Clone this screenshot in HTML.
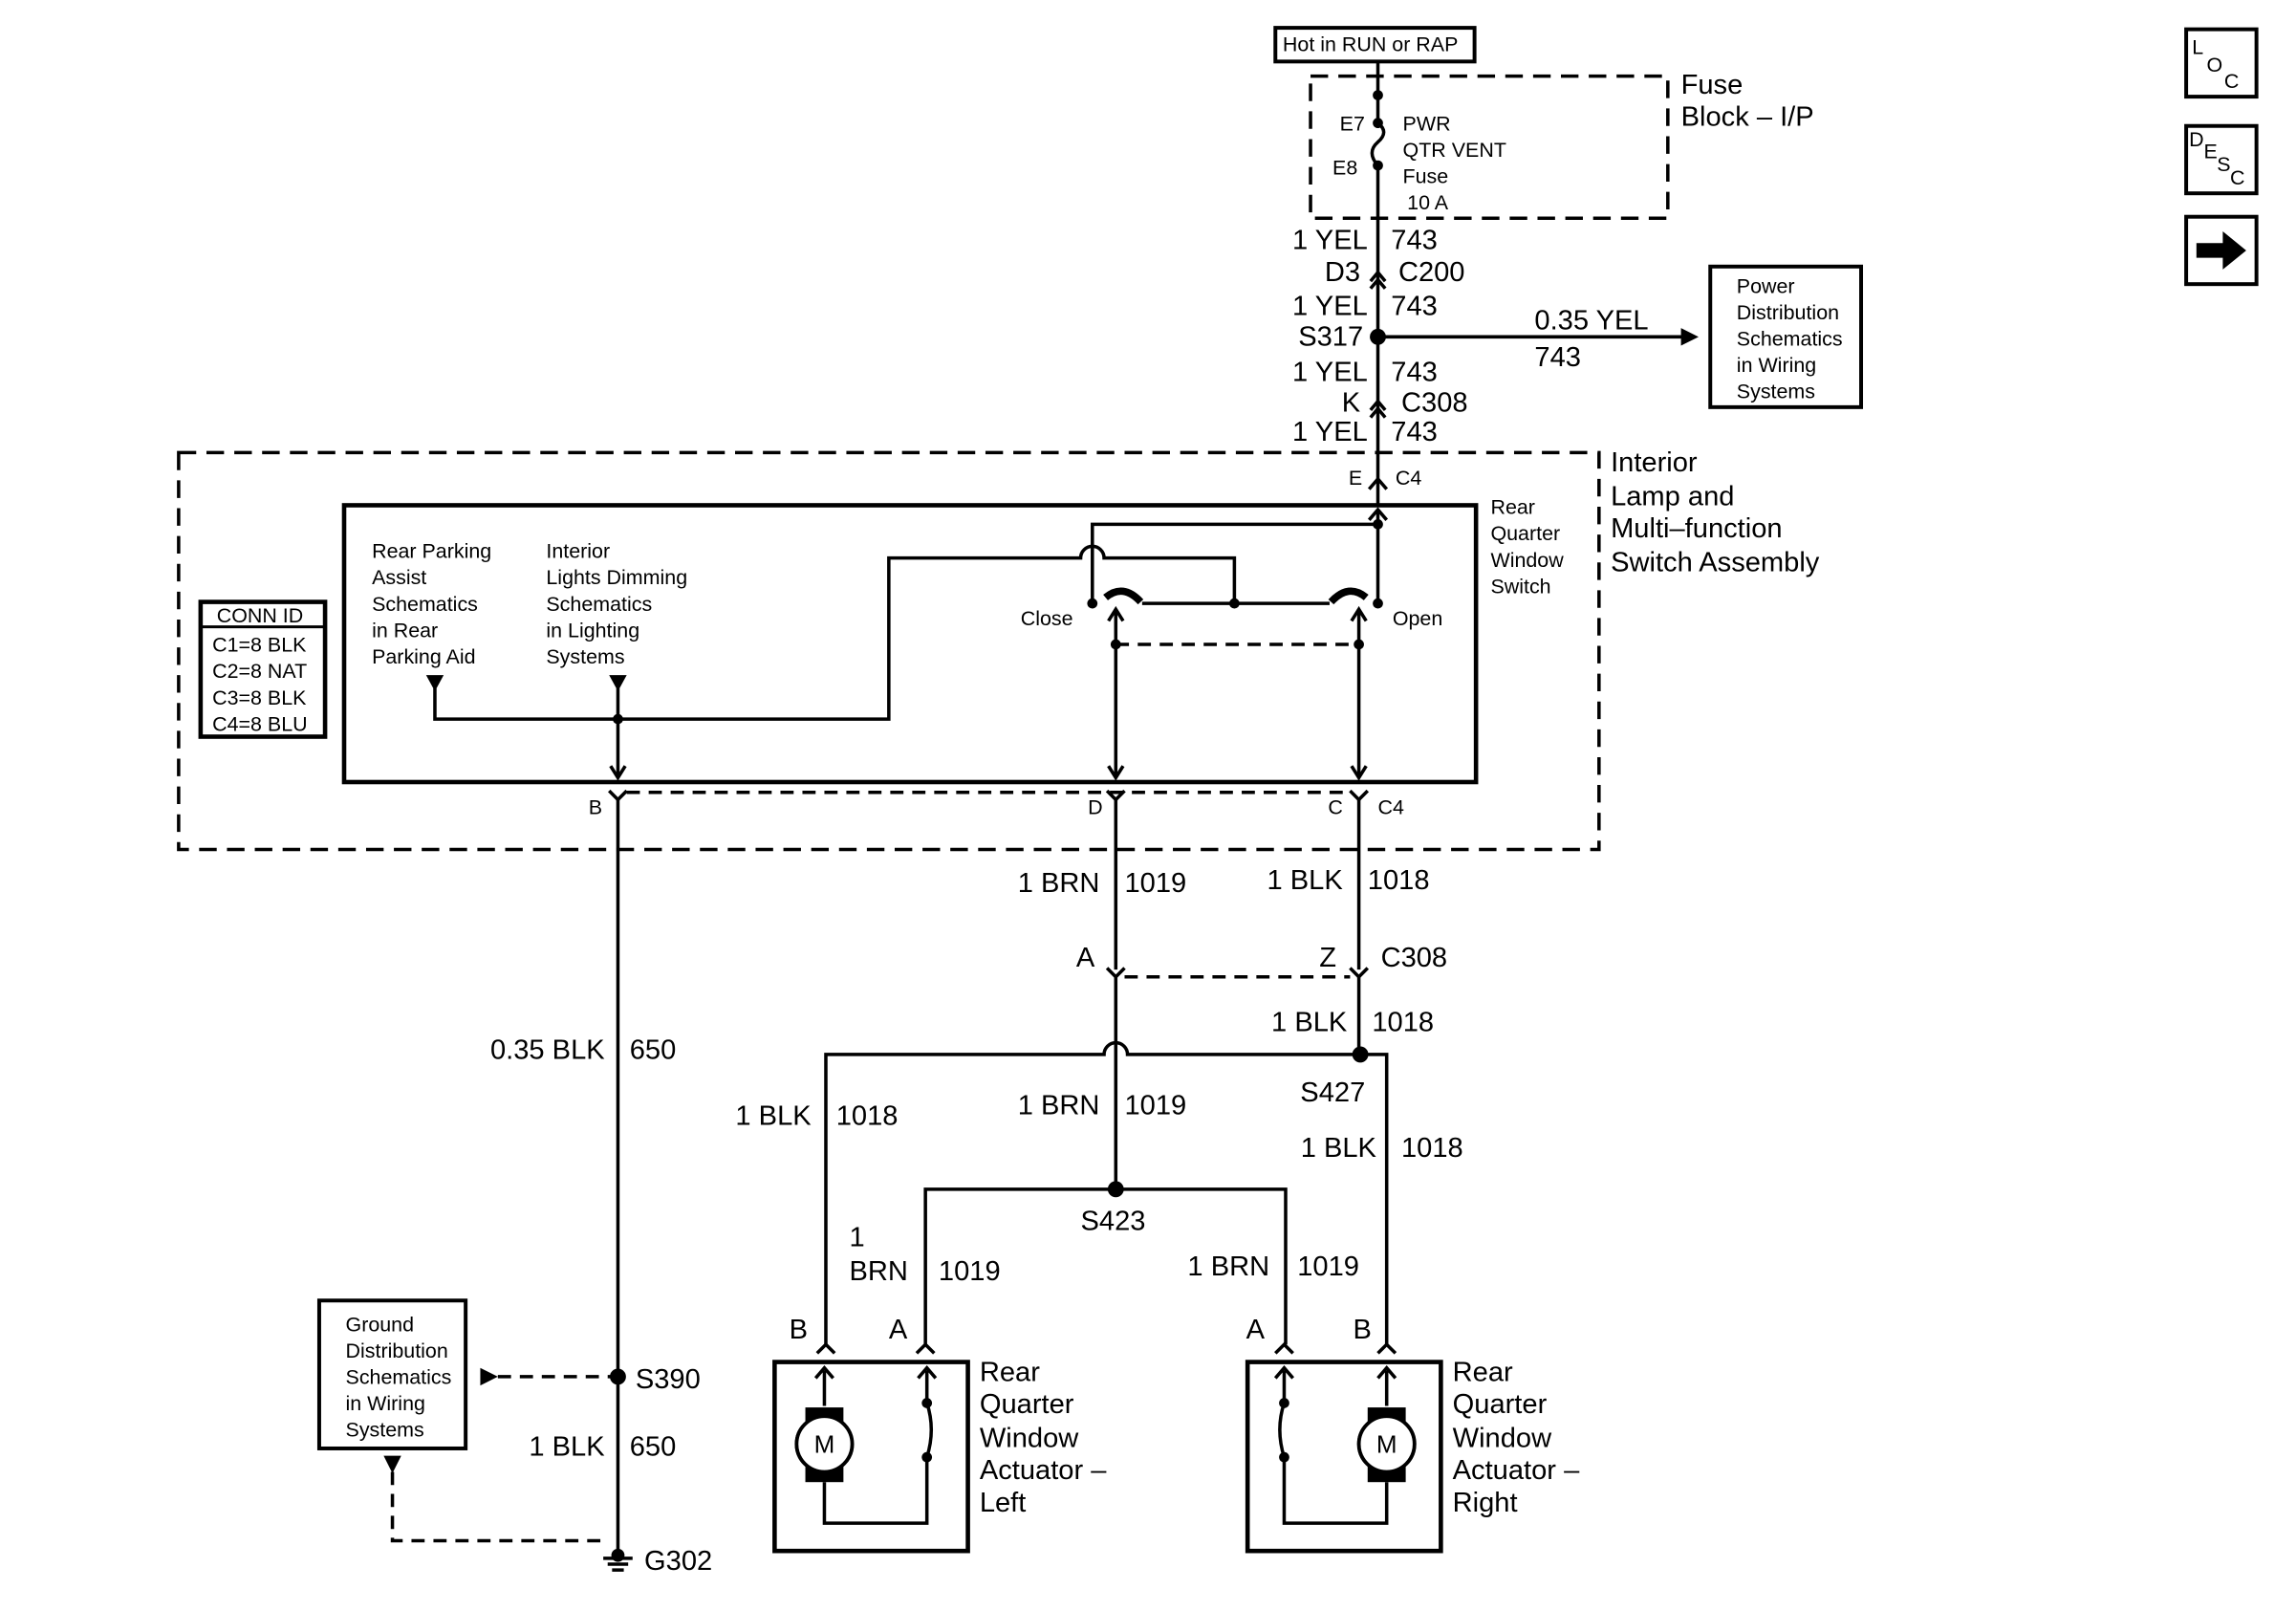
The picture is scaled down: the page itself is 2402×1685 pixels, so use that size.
<!DOCTYPE html>
<html><head><meta charset="utf-8"><style>
html,body{margin:0;padding:0;background:#fff;}
svg{display:block;}
text{font-family:"Liberation Sans",Arial,sans-serif;fill:#000;}
.s{font-size:14px;}
.m{font-size:19px;}
</style></head><body>
<svg width="2402" height="1685" viewBox="0 0 1568 1100" preserveAspectRatio="none" xmlns="http://www.w3.org/2000/svg">
<g fill="none" stroke="#000" stroke-width="2.3">
<!-- top -->
<rect x="871" y="19" width="136" height="23" stroke-width="2.6"/>
<rect x="895" y="52" width="244" height="97" stroke-dasharray="12,7"/>
<line x1="941" y1="42" x2="941" y2="84"/>
<path d="M941 84 q8 6 0 13 q-8 7 0 16"/>
<line x1="941" y1="113" x2="941" y2="345"/>
<path d="M936 192 l5 -6 l5 6 M936 197 l5 -6 l5 6"/>
<path d="M936 280 l5 -6 l5 6 M936 285 l5 -6 l5 6"/>
<line x1="941" y1="230" x2="1150" y2="230"/>
<rect x="1168" y="182" width="103" height="96" stroke-width="2.6"/>
<!-- outer dashed -->
<rect x="122" y="309" width="970" height="271" stroke-dasharray="12,7"/>
<path d="M935 334 l6 -7 l6 7"/>
<rect x="235" y="345" width="773" height="189" stroke-width="3"/>
<rect x="137" y="411" width="85" height="92" stroke-width="3"/>
<line x1="137" y1="428" x2="222" y2="428" stroke-width="2"/>
<!-- internal wiring -->
<path d="M297 470 V491 H607 V381 H738 a8 8 0 0 1 16 0 H843 V412"/>
<line x1="422" y1="470" x2="422" y2="530"/>
<path d="M746 412 V358 H941"/>
<line x1="941" y1="348" x2="941" y2="412"/>
<path d="M935 355 l6 -7 l6 7"/>
<line x1="780" y1="412" x2="908" y2="412"/>
<path d="M755 408 q12 -10 24 3" stroke-width="5"/>
<path d="M909 411 q12 -13 24 -3" stroke-width="5"/>
<line x1="762" y1="416" x2="762" y2="530"/>
<line x1="928" y1="416" x2="928" y2="530"/>
<path d="M757 424 l5 -8 l5 8 M757 523 l5 8 l5 -8 M923 424 l5 -8 l5 8 M923 523 l5 8 l5 -8 M417 523 l5 8 l5 -8"/>
<line x1="762" y1="440" x2="928" y2="440" stroke-dasharray="9,6"/>
<!-- bottom connectors C4 -->
<line x1="428" y1="541" x2="922" y2="541" stroke-dasharray="9,6"/>
<path d="M416 540 l6 6 l6 -6 M756 540 l6 6 l6 -6 M922 540 l6 6 l6 -6"/>
<line x1="422" y1="546" x2="422" y2="1062"/>
<line x1="762" y1="546" x2="762" y2="662"/>
<line x1="928" y1="546" x2="928" y2="662"/>
<path d="M756 661 l6 6 l6 -6 M922 661 l6 6 l6 -6"/>
<line x1="768" y1="667" x2="922" y2="667" stroke-dasharray="9,6"/>
<line x1="762" y1="667" x2="762" y2="812"/>
<line x1="928" y1="667" x2="928" y2="720"/>
<path d="M564 918 V720 H754 a8 8 0 0 1 16 0 H947 V918"/>
<path d="M632 918 V812 H878 V918"/>
<path d="M558 924 l6 -6 l6 6 M626 924 l6 -6 l6 6 M871 924 l6 -6 l6 6 M941 924 l6 -6 l6 6"/>
<!-- actuators -->
<rect x="529" y="930" width="132" height="129" stroke-width="3"/>
<rect x="852" y="930" width="132" height="129" stroke-width="3"/>
<path d="M563 960 V936 M557 941 l6 -7 l6 7 M563 1012 V1040 H633 V995 M633 958 V936 M627 941 l6 -7 l6 7 M633 958 q6 18 0 37"/>
<path d="M947 960 V936 M941 941 l6 -7 l6 7 M947 1012 V1040 H877 V995 M877 958 V936 M871 941 l6 -7 l6 7 M877 958 q-6 18 0 37"/>
<circle cx="563" cy="986" r="19" fill="#fff"/>
<circle cx="947" cy="986" r="19" fill="#fff"/>
<!-- ground -->
<rect x="218" y="888" width="100" height="101" stroke-width="2.6"/>
<line x1="340" y1="940" x2="420" y2="940" stroke-dasharray="9,6"/>
<path d="M268 1005 V1052 H414" stroke-dasharray="9,6"/>
<path d="M412 1064 H432 M415 1068 H429 M418 1072 H426"/>
<rect x="1493" y="20" width="48" height="46" stroke-width="2.6"/>
<rect x="1493" y="86" width="48" height="46" stroke-width="2.6"/>
<rect x="1493" y="148" width="48" height="46" stroke-width="2.6"/>
</g>
<g fill="#000" stroke="none">
<circle cx="941" cy="65" r="3.5"/><circle cx="941" cy="84" r="3.5"/><circle cx="941" cy="113" r="3.5"/>
<circle cx="941" cy="230" r="5.5"/>
<path d="M1160 230 l-12 -6 v12z"/>
<path d="M291 461 h12 l-6 11z M416 461 h12 l-6 11z"/>
<circle cx="422" cy="491" r="3.5"/>
<circle cx="746" cy="412" r="3.5"/><circle cx="843" cy="412" r="3.5"/><circle cx="941" cy="412" r="3.5"/><circle cx="941" cy="358" r="3.5"/>
<circle cx="762" cy="440" r="3.5"/><circle cx="928" cy="440" r="3.5"/>
<circle cx="929" cy="720" r="5.5"/><circle cx="762" cy="812" r="5.5"/>
<circle cx="422" cy="940" r="5.5"/>
<path d="M328 934 l12 6 l-12 6z M262 994 h12 l-6 12z"/>
<circle cx="422" cy="1062" r="4.5"/>
<rect x="550" y="961" width="26" height="51"/><rect x="934" y="961" width="26" height="51"/>
<circle cx="633" cy="958" r="3.5"/><circle cx="633" cy="995" r="3.5"/>
<circle cx="877" cy="958" r="3.5"/><circle cx="877" cy="995" r="3.5"/>
<path d="M1500 166 h18 v-8 l16 13 l-16 13 v-8 h-18z"/>
</g>
<circle cx="563" cy="986" r="18" fill="#fff"/><circle cx="947" cy="986" r="18" fill="#fff"/>
<circle cx="563" cy="986" r="19" fill="none" stroke="#000" stroke-width="2.5"/>
<circle cx="947" cy="986" r="19" fill="none" stroke="#000" stroke-width="2.5"/>
<text x="563" y="992" class="m" text-anchor="middle" style="font-size:17px">M</text>
<text x="947" y="992" class="m" text-anchor="middle" style="font-size:17px">M</text>

<text x="876" y="35" class="s">Hot in RUN or RAP</text>
<text x="1148" y="64" class="m">Fuse</text><text x="1148" y="86" class="m">Block – I/P</text>
<text x="915" y="89" class="s">E7</text><text x="910" y="119" class="s">E8</text>
<text x="958" y="89" class="s">PWR</text><text x="958" y="107" class="s">QTR VENT</text><text x="958" y="125" class="s">Fuse</text><text x="961" y="143" class="s">10 A</text>
<g class="m" text-anchor="end">
<text x="934" y="170">1 YEL</text><text x="929" y="192">D3</text><text x="934" y="215">1 YEL</text><text x="931" y="236">S317</text>
<text x="934" y="260">1 YEL</text><text x="929" y="281">K</text><text x="934" y="301">1 YEL</text>
<text x="751" y="609">1 BRN</text><text x="917" y="607">1 BLK</text>
<text x="920" y="704">1 BLK</text><text x="751" y="761">1 BRN</text><text x="554" y="768">1 BLK</text>
<text x="940" y="790">1 BLK</text><text x="867" y="871">1 BRN</text>
<text x="413" y="723">0.35 BLK</text><text x="413" y="994">1 BLK</text>
</g>
<g class="m">
<text x="950" y="170">743</text><text x="955" y="192">C200</text><text x="950" y="215">743</text>
<text x="950" y="260">743</text><text x="957" y="281">C308</text><text x="950" y="301">743</text>
<text x="1048" y="225">0.35 YEL</text><text x="1048" y="250">743</text>
<text x="1100" y="322">Interior</text><text x="1100" y="345">Lamp and</text><text x="1100" y="367">Multi–function</text><text x="1100" y="390">Switch Assembly</text>
<text x="768" y="609">1019</text><text x="934" y="607">1018</text>
<text x="735" y="660">A</text><text x="901" y="660">Z</text><text x="943" y="660">C308</text>
<text x="937" y="704">1018</text><text x="888" y="752">S427</text>
<text x="768" y="761">1019</text><text x="571" y="768">1018</text><text x="957" y="790">1018</text>
<text x="738" y="840">S423</text>
<text x="580" y="851">1</text><text x="580" y="874">BRN</text><text x="641" y="874">1019</text><text x="886" y="871">1019</text>
<text x="539" y="914">B</text><text x="607" y="914">A</text><text x="851" y="914">A</text><text x="924" y="914">B</text>
<text x="669" y="943">Rear</text><text x="669" y="965">Quarter</text><text x="669" y="988">Window</text><text x="669" y="1010">Actuator –</text><text x="669" y="1032">Left</text>
<text x="992" y="943">Rear</text><text x="992" y="965">Quarter</text><text x="992" y="988">Window</text><text x="992" y="1010">Actuator –</text><text x="992" y="1032">Right</text>
<text x="430" y="723">650</text><text x="434" y="948">S390</text><text x="430" y="994">650</text><text x="440" y="1072">G302</text>
</g>
<g class="s">
<text x="1186" y="200">Power</text><text x="1186" y="218">Distribution</text><text x="1186" y="236">Schematics</text><text x="1186" y="254">in Wiring</text><text x="1186" y="272">Systems</text>
<text x="921" y="331">E</text><text x="953" y="331">C4</text>
<text x="1018" y="351">Rear</text><text x="1018" y="369">Quarter</text><text x="1018" y="387">Window</text><text x="1018" y="405">Switch</text>
<text x="254" y="381">Rear Parking</text><text x="254" y="399">Assist</text><text x="254" y="417">Schematics</text><text x="254" y="435">in Rear</text><text x="254" y="453">Parking Aid</text>
<text x="373" y="381">Interior</text><text x="373" y="399">Lights Dimming</text><text x="373" y="417">Schematics</text><text x="373" y="435">in Lighting</text><text x="373" y="453">Systems</text>
<text x="697" y="427">Close</text><text x="951" y="427">Open</text>
<text x="148" y="425">CONN ID</text><text x="145" y="445">C1=8 BLK</text><text x="145" y="463">C2=8 NAT</text><text x="145" y="481">C3=8 BLK</text><text x="145" y="499">C4=8 BLU</text>
<text x="402" y="556">B</text><text x="743" y="556">D</text><text x="907" y="556">C</text><text x="941" y="556">C4</text>
<text x="236" y="909">Ground</text><text x="236" y="927">Distribution</text><text x="236" y="945">Schematics</text><text x="236" y="963">in Wiring</text><text x="236" y="981">Systems</text>
<text x="1497" y="37">L</text><text x="1507" y="49">O</text><text x="1519" y="60">C</text>
<text x="1495" y="100">D</text><text x="1505" y="108">E</text><text x="1514" y="117">S</text><text x="1523" y="126">C</text>
</g>
</svg>
</body></html>
